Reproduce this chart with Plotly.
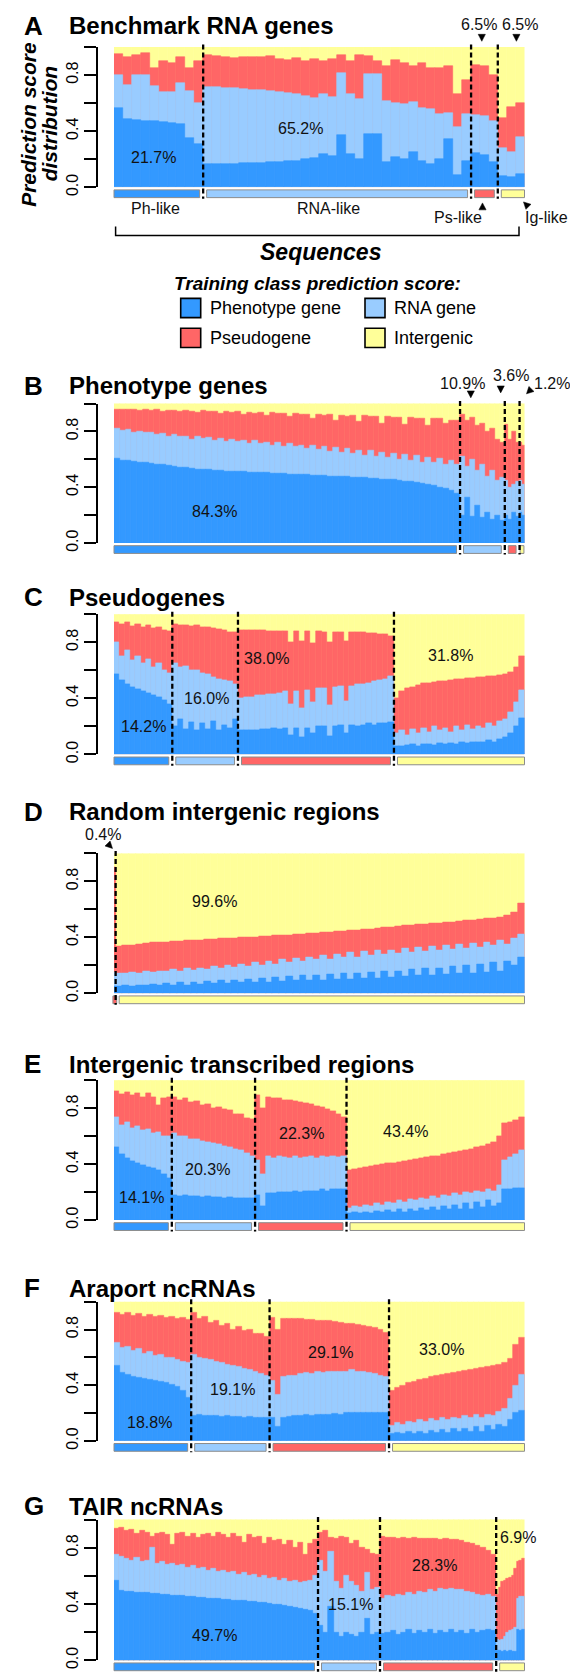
import math
import plotly.graph_objects as go

W, H = 570, 1679
COL = {"Phenotype gene": "#3399FF", "RNA gene": "#99CCFF",
       "Pseudogene": "#FF6666", "Intergenic": "#FFFF99"}
FONT = "Liberation Sans, Arial, Helvetica, sans-serif"

# ------------------------------------------------------------------ data
# Stacked tops (cumulative: phenotype, +RNA, +pseudogene); intergenic fills to 1.
# Each panel: one sub-list per predicted-class segment (Ph-like, RNA-like, Ps-like, Ig-like).
A_classes = ["Phenotype gene", "RNA gene", "Pseudogene", "Intergenic"]
A_pct = [21.7, 65.2, 6.5, 6.5]
A_ph_top = [[0.567, 0.485, 0.48, 0.475, 0.47, 0.465, 0.458, 0.45, 0.35, 0.31],
            [0.165, 0.165, 0.165, 0.168, 0.17, 0.172, 0.175, 0.178, 0.18, 0.185, 0.19, 0.2, 0.21, 0.236, 0.22,
             0.37, 0.236, 0.2, 0.383, 0.378, 0.177, 0.213, 0.2, 0.248, 0.19, 0.165, 0.2, 0.347, 0.09, 0.19],
            [0.243, 0.23, 0.177],
            [0.078, 0.071, 0.095]]
A_rna_top = [[0.797, 0.726, 0.80, 0.80, 0.72, 0.68, 0.68, 0.745, 0.685, 0.60],
             [0.716, 0.716, 0.71, 0.705, 0.70, 0.695, 0.69, 0.685, 0.68, 0.674, 0.667, 0.65, 0.638, 0.662, 0.645,
              0.816, 0.662, 0.626, 0.804, 0.804, 0.615, 0.603, 0.591, 0.61, 0.567, 0.556, 0.52, 0.532, 0.43, 0.52],
             [0.513, 0.508, 0.473],
             [0.277, 0.253, 0.355]]
A_ps_top = [[0.953, 0.929, 0.946, 0.957, 0.851, 0.903, 0.887, 0.927, 0.851, 0.898],
            [0.946, 0.934, 0.93, 0.922, 0.93, 0.928, 0.93, 0.934, 0.915, 0.91, 0.922, 0.903, 0.915, 0.898, 0.915,
             0.946, 0.898, 0.946, 0.934, 0.903, 0.863, 0.91, 0.887, 0.863, 0.887, 0.851, 0.851, 0.863, 0.662, 0.768],
            [0.875, 0.868, 0.797],
            [0.496, 0.574, 0.603]]

B_classes = ["Phenotype gene", "RNA gene", "Pseudogene", "Intergenic"]
B_pct = [84.3, 10.9, 3.6, 1.2]
B_ph_top = [[0.605, 0.595, 0.59, 0.585, 0.58, 0.577, 0.572, 0.565, 0.56, 0.555,
             0.548, 0.543, 0.538, 0.534, 0.53, 0.527, 0.524, 0.521, 0.518, 0.516,
             0.514, 0.512, 0.51, 0.508, 0.506, 0.504, 0.502, 0.5, 0.498, 0.496,
             0.494, 0.492, 0.49, 0.488, 0.486, 0.484, 0.482, 0.48, 0.478, 0.476,
             0.474, 0.472, 0.47, 0.468, 0.465, 0.462, 0.458, 0.455, 0.452, 0.448,
             0.444, 0.44, 0.434, 0.428, 0.42, 0.41, 0.4, 0.39, 0.375, 0.355],
            [0.2, 0.33, 0.19, 0.27, 0.18, 0.22, 0.17, 0.2, 0.16],
            [0.2, 0.17, 0.22, 0.19],
            [0.22, 0.2]]
B_rna_top = [[0.82, 0.805, 0.815, 0.79, 0.80, 0.79, 0.795, 0.775, 0.785, 0.765,
              0.78, 0.76, 0.765, 0.745, 0.765, 0.75, 0.755, 0.735, 0.75, 0.725,
              0.745, 0.73, 0.735, 0.715, 0.735, 0.715, 0.72, 0.70, 0.72, 0.695,
              0.715, 0.69, 0.70, 0.675, 0.70, 0.67, 0.69, 0.655, 0.685, 0.65,
              0.675, 0.64, 0.665, 0.63, 0.66, 0.62, 0.65, 0.61, 0.645, 0.60,
              0.635, 0.59, 0.63, 0.58, 0.615, 0.575, 0.605, 0.565, 0.59, 0.565],
             [0.62, 0.55, 0.6, 0.52, 0.56, 0.48, 0.52, 0.45, 0.47],
             [0.45, 0.4, 0.42, 0.44],
             [0.45, 0.42]]
B_ps_top = [[0.96, 0.955, 0.96, 0.955, 0.948, 0.958, 0.95, 0.955, 0.943, 0.953,
             0.95, 0.94, 0.948, 0.945, 0.935, 0.948, 0.94, 0.943, 0.93, 0.943,
             0.935, 0.94, 0.92, 0.938, 0.93, 0.933, 0.915, 0.933, 0.925, 0.928,
             0.905, 0.928, 0.92, 0.923, 0.895, 0.922, 0.915, 0.918, 0.88, 0.917,
             0.91, 0.912, 0.87, 0.912, 0.905, 0.907, 0.86, 0.906, 0.9, 0.902,
             0.85, 0.9, 0.895, 0.896, 0.84, 0.895, 0.89, 0.86, 0.875, 0.88],
            [0.92, 0.88, 0.9, 0.84, 0.86, 0.8, 0.82, 0.74, 0.72],
            [0.85, 0.74, 0.8, 0.72],
            [0.72, 0.7]]

C_classes = ["Phenotype gene", "RNA gene", "Pseudogene", "Intergenic"]
C_pct = [14.2, 16.0, 38.0, 31.8]
C_ph_top = [[0.57, 0.53, 0.5, 0.48, 0.465, 0.45, 0.44, 0.425, 0.41, 0.39, 0.36],
            [0.2, 0.25, 0.18, 0.23, 0.17, 0.22, 0.18, 0.24, 0.17, 0.21, 0.19, 0.25],
            [0.17, 0.17, 0.175, 0.175, 0.18, 0.18, 0.185, 0.18, 0.185, 0.14,
             0.19, 0.12, 0.19, 0.15, 0.2, 0.2, 0.13, 0.2, 0.21, 0.15,
             0.21, 0.2, 0.21, 0.22, 0.21, 0.22, 0.22, 0.23],
            [0.06, 0.06, 0.065, 0.07, 0.06, 0.07, 0.075, 0.065, 0.08, 0.07,
             0.08, 0.075, 0.085, 0.08, 0.09, 0.085, 0.09, 0.1, 0.09, 0.11,
             0.12, 0.15, 0.2, 0.26]]
C_rna_top = [[0.80, 0.70, 0.74, 0.67, 0.70, 0.65, 0.68, 0.62, 0.65, 0.6, 0.58],
             [0.65, 0.62, 0.63, 0.6, 0.6, 0.58, 0.57, 0.55, 0.54, 0.53, 0.52, 0.5],
             [0.40, 0.41, 0.41, 0.42, 0.42, 0.43, 0.43, 0.44, 0.45, 0.36,
              0.45, 0.33, 0.46, 0.37, 0.47, 0.47, 0.35, 0.48, 0.49, 0.38,
              0.49, 0.5, 0.5, 0.51, 0.52, 0.53, 0.54, 0.56],
             [0.15, 0.17, 0.14, 0.18, 0.15, 0.19, 0.16, 0.2, 0.17, 0.19,
              0.16, 0.2, 0.17, 0.21, 0.18, 0.2, 0.19, 0.22, 0.2, 0.24,
              0.25, 0.3, 0.37, 0.46]]
C_ps_top = [[0.945, 0.93, 0.94, 0.915, 0.93, 0.905, 0.92, 0.9, 0.91, 0.885, 0.88],
            [0.93, 0.92, 0.925, 0.915, 0.92, 0.91, 0.905, 0.9, 0.89, 0.885, 0.875, 0.87],
            [0.886, 0.886, 0.885, 0.885, 0.884, 0.88, 0.882, 0.88, 0.88, 0.8,
             0.878, 0.81, 0.876, 0.79, 0.876, 0.875, 0.8, 0.874, 0.872, 0.81,
             0.87, 0.87, 0.87, 0.868, 0.865, 0.86, 0.855, 0.84],
            [0.40, 0.45, 0.47, 0.483, 0.495, 0.505, 0.51, 0.515, 0.52, 0.525,
             0.53, 0.535, 0.538, 0.542, 0.545, 0.55, 0.553, 0.556, 0.56, 0.565,
             0.57, 0.585, 0.62, 0.70]]

D_classes = ["Pseudogene", "Intergenic"]
D_pct = [0.4, 99.6]
D_ph_top = [[0.05],
            [0.05, 0.055, 0.05, 0.06, 0.055, 0.065, 0.055, 0.07, 0.06, 0.075,
             0.06, 0.08, 0.065, 0.085, 0.07, 0.09, 0.07, 0.095, 0.075, 0.1,
             0.08, 0.11, 0.08, 0.115, 0.085, 0.12, 0.09, 0.125, 0.09, 0.13,
             0.095, 0.135, 0.1, 0.14, 0.1, 0.145, 0.105, 0.15, 0.11, 0.155,
             0.115, 0.16, 0.12, 0.17, 0.125, 0.175, 0.13, 0.18, 0.135, 0.19,
             0.14, 0.2, 0.145, 0.21, 0.15, 0.22, 0.16, 0.23, 0.2, 0.26]]
D_rna_top = [[0.15],
             [0.145, 0.14, 0.15, 0.145, 0.155, 0.15, 0.16, 0.155, 0.17, 0.16,
              0.175, 0.165, 0.18, 0.17, 0.19, 0.18, 0.2, 0.185, 0.21, 0.195,
              0.22, 0.2, 0.23, 0.21, 0.24, 0.22, 0.25, 0.23, 0.26, 0.24,
              0.27, 0.245, 0.28, 0.255, 0.29, 0.26, 0.3, 0.27, 0.305, 0.28,
              0.31, 0.285, 0.32, 0.29, 0.33, 0.3, 0.335, 0.31, 0.34, 0.315,
              0.35, 0.32, 0.355, 0.33, 0.365, 0.34, 0.375, 0.35, 0.39, 0.42]]
D_ps_top = [[0.9],
            [0.334, 0.34, 0.346, 0.352, 0.358, 0.361, 0.364, 0.367, 0.37, 0.373,
             0.376, 0.378, 0.381, 0.384, 0.387, 0.39, 0.393, 0.395, 0.398, 0.4,
             0.402, 0.405, 0.408, 0.411, 0.414, 0.417, 0.42, 0.424, 0.427, 0.43,
             0.433, 0.437, 0.44, 0.444, 0.448, 0.452, 0.456, 0.46, 0.464, 0.468,
             0.473, 0.477, 0.482, 0.486, 0.49, 0.494, 0.498, 0.502, 0.506, 0.51,
             0.514, 0.518, 0.522, 0.527, 0.532, 0.537, 0.545, 0.556, 0.575, 0.64]]

E_classes = ["Phenotype gene", "RNA gene", "Pseudogene", "Intergenic"]
E_pct = [14.1, 20.3, 22.3, 43.4]
E_ph_top = [[0.52, 0.47, 0.44, 0.42, 0.405, 0.39, 0.38, 0.37, 0.355, 0.33, 0.3],
            [0.18, 0.17, 0.175, 0.17, 0.17, 0.165, 0.17, 0.165, 0.165, 0.16, 0.165, 0.16, 0.16, 0.16, 0.16],
            [0.18, 0.1, 0.19, 0.19, 0.2, 0.2, 0.2, 0.21, 0.2, 0.21, 0.21, 0.21, 0.22, 0.21, 0.22, 0.22, 0.22],
            [0.05, 0.055, 0.05, 0.06, 0.05, 0.065, 0.055, 0.07, 0.06, 0.075,
             0.06, 0.08, 0.065, 0.085, 0.07, 0.09, 0.07, 0.1, 0.075, 0.11,
             0.08, 0.12, 0.08, 0.13, 0.09, 0.14, 0.1, 0.12, 0.22, 0.22, 0.23, 0.23]]
E_rna_top = [[0.735, 0.68, 0.70, 0.66, 0.67, 0.64, 0.65, 0.62, 0.63, 0.6, 0.6],
             [0.62, 0.6, 0.6, 0.58, 0.58, 0.565, 0.56, 0.55, 0.54, 0.53, 0.52, 0.51, 0.5, 0.48, 0.46],
             [0.43, 0.33, 0.46, 0.44, 0.46, 0.45, 0.44, 0.46, 0.44, 0.45, 0.46, 0.44, 0.46, 0.45, 0.46, 0.45, 0.46],
             [0.083, 0.1, 0.09, 0.11, 0.1, 0.12, 0.11, 0.13, 0.12, 0.14,
              0.13, 0.15, 0.14, 0.16, 0.15, 0.17, 0.16, 0.18, 0.17, 0.19,
              0.18, 0.2, 0.19, 0.21, 0.2, 0.22, 0.21, 0.25, 0.43, 0.45, 0.47, 0.5]]
E_ps_top = [[0.924, 0.9, 0.915, 0.89, 0.91, 0.88, 0.905, 0.875, 0.82, 0.87, 0.877],
            [0.88, 0.86, 0.87, 0.84, 0.85, 0.82, 0.83, 0.8, 0.81, 0.79, 0.785, 0.76, 0.755, 0.73, 0.72],
            [0.89, 0.8, 0.88, 0.87, 0.87, 0.86, 0.855, 0.85, 0.84, 0.835, 0.825, 0.815, 0.805, 0.79, 0.78, 0.76, 0.735],
            [0.355, 0.365, 0.372, 0.378, 0.385, 0.392, 0.398, 0.404, 0.41, 0.416,
             0.422, 0.428, 0.434, 0.44, 0.447, 0.454, 0.46, 0.468, 0.476, 0.484,
             0.492, 0.5, 0.508, 0.518, 0.528, 0.54, 0.555, 0.6, 0.69, 0.7, 0.715, 0.735]]

F_classes = ["Phenotype gene", "RNA gene", "Pseudogene", "Intergenic"]
F_pct = [18.8, 19.1, 29.1, 33.0]
F_ph_top = [[0.538, 0.49, 0.475, 0.465, 0.455, 0.447, 0.44, 0.432, 0.425, 0.415, 0.405, 0.39, 0.36, 0.31],
            [0.18, 0.185, 0.18, 0.18, 0.18, 0.175, 0.18, 0.175, 0.175, 0.17, 0.175, 0.17, 0.17, 0.17],
            [0.17, 0.1, 0.17, 0.175, 0.18, 0.18, 0.185, 0.18, 0.19, 0.19, 0.19,
             0.195, 0.19, 0.2, 0.2, 0.2, 0.2, 0.205, 0.2, 0.205, 0.2],
            [0.05, 0.06, 0.05, 0.065, 0.055, 0.07, 0.055, 0.075, 0.06, 0.08,
             0.06, 0.085, 0.065, 0.09, 0.07, 0.1, 0.07, 0.11, 0.08, 0.12, 0.1, 0.15, 0.2, 0.22]]
F_rna_top = [[0.705, 0.67, 0.68, 0.65, 0.66, 0.63, 0.64, 0.61, 0.62, 0.6, 0.6, 0.58, 0.57, 0.56],
             [0.62, 0.6, 0.59, 0.58, 0.57, 0.56, 0.55, 0.54, 0.53, 0.52, 0.51, 0.5, 0.48, 0.47],
             [0.43, 0.33, 0.46, 0.47, 0.47, 0.48, 0.49, 0.48, 0.5, 0.49, 0.5,
              0.5, 0.5, 0.5, 0.51, 0.5, 0.5, 0.49, 0.48, 0.47, 0.46],
             [0.11, 0.13, 0.12, 0.14, 0.13, 0.15, 0.14, 0.16, 0.145, 0.165,
              0.15, 0.17, 0.16, 0.18, 0.165, 0.185, 0.17, 0.19, 0.18, 0.21, 0.23, 0.3, 0.4, 0.478]]
F_ps_top = [[0.924, 0.91, 0.92, 0.9, 0.915, 0.895, 0.91, 0.89, 0.9, 0.885, 0.895, 0.88, 0.885, 0.87],
            [0.92, 0.88, 0.89, 0.85, 0.86, 0.83, 0.84, 0.8, 0.82, 0.79, 0.8, 0.77, 0.77, 0.75],
            [0.885, 0.8, 0.88, 0.88, 0.875, 0.875, 0.87, 0.87, 0.865, 0.86, 0.86,
             0.855, 0.85, 0.845, 0.84, 0.835, 0.825, 0.82, 0.81, 0.8, 0.78],
            [0.36, 0.38, 0.4, 0.415, 0.428, 0.44, 0.45, 0.458, 0.466, 0.474,
             0.482, 0.49, 0.497, 0.504, 0.511, 0.518, 0.525, 0.532, 0.54, 0.548, 0.56, 0.59, 0.69, 0.74]]

G_classes = ["Phenotype gene", "RNA gene", "Pseudogene", "Intergenic"]
G_pct = [49.7, 15.1, 28.3, 6.9]
G_ph_top = [[0.57, 0.495, 0.49, 0.487, 0.484, 0.481, 0.478, 0.475, 0.472, 0.469,
             0.466, 0.463, 0.46, 0.457, 0.454, 0.451, 0.448, 0.445, 0.442, 0.439,
             0.436, 0.433, 0.43, 0.427, 0.424, 0.421, 0.418, 0.415, 0.411, 0.407,
             0.403, 0.399, 0.394, 0.389, 0.384, 0.378, 0.371, 0.363, 0.353, 0.335],
            [0.25, 0.2, 0.38, 0.2, 0.17, 0.2, 0.18, 0.17, 0.2, 0.3, 0.18, 0.2],
            [0.19, 0.2, 0.21, 0.18, 0.2, 0.22, 0.19, 0.21, 0.2, 0.22, 0.19,
             0.21, 0.2, 0.22, 0.2, 0.21, 0.19, 0.22, 0.2, 0.21, 0.22, 0.21],
            [0.07, 0.07, 0.065, 0.07, 0.06, 0.07, 0.06, 0.065, 0.22, 0.21, 0.22]]
G_rna_top = [[0.75, 0.74, 0.72, 0.71, 0.73, 0.70, 0.71, 0.80, 0.69, 0.70,
              0.68, 0.69, 0.67, 0.68, 0.66, 0.67, 0.65, 0.66, 0.64, 0.65,
              0.63, 0.64, 0.62, 0.63, 0.61, 0.62, 0.6, 0.61, 0.59, 0.6,
              0.58, 0.59, 0.57, 0.58, 0.56, 0.57, 0.55, 0.56, 0.57, 0.6],
             [0.71, 0.63, 0.77, 0.56, 0.51, 0.6, 0.56, 0.53, 0.49, 0.62, 0.5, 0.52],
             [0.44, 0.46, 0.45, 0.47, 0.46, 0.48, 0.47, 0.49, 0.48, 0.5, 0.49,
              0.51, 0.5, 0.51, 0.5, 0.5, 0.49, 0.48, 0.47, 0.46, 0.47, 0.45],
             [0.15, 0.14, 0.15, 0.17, 0.2, 0.21, 0.22, 0.23, 0.44, 0.45, 0.45]]
G_ps_top = [[0.934, 0.94, 0.92, 0.93, 0.9, 0.92, 0.91, 0.88, 0.9, 0.91,
             0.89, 0.82, 0.9, 0.91, 0.88, 0.9, 0.87, 0.89, 0.9, 0.88,
             0.91, 0.89, 0.87, 0.9, 0.88, 0.84, 0.89, 0.87, 0.88, 0.83,
             0.87, 0.85, 0.86, 0.82, 0.85, 0.8, 0.84, 0.75, 0.83, 0.86],
            [0.91, 0.92, 0.87, 0.864, 0.88, 0.87, 0.83, 0.85, 0.8, 0.79, 0.76, 0.75],
            [0.876, 0.87, 0.875, 0.868, 0.872, 0.865, 0.87, 0.866, 0.868, 0.862, 0.866,
             0.86, 0.862, 0.855, 0.858, 0.85, 0.84, 0.83, 0.815, 0.8, 0.78, 0.75],
            [0.465, 0.52, 0.56, 0.57, 0.58, 0.59, 0.6, 0.65, 0.7, 0.71, 0.72]]

y_tick_vals = [0.0, 0.2, 0.4, 0.6, 0.8, 1.0]
y_tick_text = ["0.0", "", "0.4", "", "0.8", ""]
legend_title = "Training class prediction score:"
class_like = ["Ph-like", "RNA-like", "Ps-like", "Ig-like"]

# ------------------------------------------------------------------ layout helpers (pixels)
X0, X1 = 114.0, 524.5
AXIS_X = 97.0
GAP = 3.5


def px(x):
    return x / W


def py(y):
    return 1 - y / H


panels = [
    dict(letter="A", title="Benchmark RNA genes", classes=A_classes, pct=A_pct,
         ph=A_ph_top, rna=A_rna_top, ps=A_ps_top, top=47.3, bottom=188.3, ty=26,
         lab=[(153.8, 158.3), (300.2, 129.3), (478.8, 25), (519.7, 25)],
         tri=[(481.8, 41.5, "down"), (516.4, 41.5, "down"), (482.5, 204, "up"), (523.5, 203, "upleft")]),
    dict(letter="B", title="Phenotype genes", classes=B_classes, pct=B_pct,
         ph=B_ph_top, rna=B_rna_top, ps=B_ps_top, top=405.7, bottom=546, ty=388,
         lab=[(214.4, 514), (462, 386), (511, 377.3), (552, 386)],
         tri=[(470.8, 400, "down"), (500.7, 395, "down"), (526.5, 396, "downleft")]),
    dict(letter="C", title="Pseudogenes", classes=C_classes, pct=C_pct,
         ph=C_ph_top, rna=C_rna_top, ps=C_ps_top, top=617.5, bottom=758.5, ty=600.5,
         lab=[(143.6, 730), (206.8, 702.3), (266, 661.7), (450.7, 659)], tri=[]),
    dict(letter="D", title="Random intergenic regions", classes=D_classes, pct=D_pct,
         ph=D_ph_top, rna=D_rna_top, ps=D_ps_top, top=858, bottom=998.7, ty=816.3,
         lab=[(102.6, 838.5), (214.4, 906.7)], tri=[(112.5, 853, "downright")]),
    dict(letter="E", title="Intergenic transcribed regions", classes=E_classes, pct=E_pct,
         ph=E_ph_top, rna=E_rna_top, ps=E_ps_top, top=1086, bottom=1226.7, ty=1070,
         lab=[(141.6, 1204.3), (207.7, 1176), (301.6, 1140), (405, 1137.7)], tri=[]),
    dict(letter="F", title="Araport ncRNAs", classes=F_classes, pct=F_pct,
         ph=F_ph_top, rna=F_rna_top, ps=F_ps_top, top=1308.7, bottom=1448.7, ty=1295,
         lab=[(149.3, 1430), (232.8, 1396.7), (330.5, 1360), (441, 1356.7)], tri=[]),
    dict(letter="G", title="TAIR ncRNAs", classes=G_classes, pct=G_pct,
         ph=G_ph_top, rna=G_rna_top, ps=G_ps_top, top=1527.8, bottom=1669.3, ty=1514.5,
         lab=[(214.4, 1644), (350.7, 1613.3), (434.9, 1574.3), (518.2, 1546)], tri=[]),
]

fig = go.Figure()
shapes, annotations = [], []
layout = {}


def tri_path(tx, ty, d, L=7.0, hw=3.6):
    dirs = {"down": (0, 1), "up": (0, -1), "downleft": (-1, 1), "upleft": (-1, -1), "downright": (1, 1)}
    dx, dy = dirs[d]
    n = math.hypot(dx, dy)
    dx, dy = dx / n, dy / n
    bx, by = tx - L * dx, ty - L * dy
    qx, qy = -dy, dx
    pts = [(tx, ty), (bx + hw * qx, by + hw * qy), (bx - hw * qx, by - hw * qy)]
    return "M " + " L ".join(f"{px(a):.5f},{py(b):.5f}" for a, b in pts) + " Z"


for i, p in enumerate(panels, start=1):
    sfx = "" if i == 1 else str(i)
    xa, ya = "x" + sfx, "y" + sfx
    total = sum(p["pct"])
    xs, ws, ph, rna, ps = [], [], [], [], []
    start = 0.0
    for seg_pct, s_ph, s_rna, s_ps in zip(p["pct"], p["ph"], p["rna"], p["ps"]):
        n = min(len(s_ph), len(s_rna), len(s_ps))
        w = seg_pct / n
        for k in range(n):
            xs.append(start + (k + 0.5) * w)
            ws.append(w)
            ph.append(s_ph[k]); rna.append(s_rna[k]); ps.append(s_ps[k])
        start += seg_pct
    for vals, name in [([1.0] * len(xs), "Intergenic"), (ps, "Pseudogene"),
                       (rna, "RNA gene"), (ph, "Phenotype gene")]:
        fig.add_trace(go.Bar(x=xs, y=vals, width=ws, xaxis=xa, yaxis=ya, name=name,
                             marker=dict(color=COL[name], line=dict(color=COL[name], width=0.6)),
                             showlegend=False, hoverinfo="skip"))
    layout["xaxis" + sfx] = dict(domain=[px(X0), px(X1)], range=[0, total], visible=False,
                                 anchor=ya, fixedrange=True)
    layout["yaxis" + sfx] = dict(domain=[py(p["bottom"]), py(p["top"])], range=[0, 1],
                                 anchor="free", position=px(AXIS_X), showline=True,
                                 linecolor="black", linewidth=1.8, ticks="outside", ticklen=12,
                                 tickwidth=1.8, tickcolor="black", tickvals=y_tick_vals,
                                 ticktext=y_tick_text, tickangle=-90,
                                 tickfont=dict(size=16, family=FONT, color="black"),
                                 showgrid=False, zeroline=False, fixedrange=True)
    cum = [0.0]
    for v in p["pct"]:
        cum.append(cum[-1] + v)
    to_px = lambda v: X0 + v / total * (X1 - X0)
    cb0, cb1 = p["bottom"] + 2.6, p["bottom"] + 10.4
    for k, cls in enumerate(p["classes"]):
        a, b = to_px(cum[k]), to_px(cum[k + 1])
        la = a + (GAP if k > 0 else 0)
        rb = b - (GAP if k < len(p["classes"]) - 1 else 0)
        if rb - la < 3:
            c = (a + b) / 2
            la, rb = c - 1.9, c + 1.9
        shapes.append(dict(type="rect", xref="paper", yref="paper", x0=px(la), x1=px(rb),
                           y0=py(cb1), y1=py(cb0), fillcolor=COL[cls],
                           line=dict(color="#8c8c8c", width=1), layer="above"))
    for c in cum[1:-1]:
        xx = to_px(c)
        shapes.append(dict(type="line", xref="paper", yref="paper", x0=px(xx), x1=px(xx),
                           y0=py(p["top"] - 2.5), y1=py(cb1 + 1), layer="above",
                           line=dict(color="black", width=2.3, dash="5px,3px")))
    annotations.append(dict(text="<b>" + p["letter"] + "</b>", x=px(22), y=py(p["ty"]),
                            xref="paper", yref="paper", xanchor="left", yanchor="middle",
                            showarrow=False, font=dict(size=26, family=FONT, color="black")))
    annotations.append(dict(text="<b>" + p["title"] + "</b>", x=px(66.5), y=py(p["ty"]),
                            xref="paper", yref="paper", xanchor="left", yanchor="middle",
                            showarrow=False, font=dict(size=24, family=FONT, color="black")))
    for v, (lx, ly) in zip(p["pct"], p["lab"]):
        annotations.append(dict(text=f"{v:.1f}%", x=px(lx), y=py(ly), xref="paper", yref="paper",
                                xanchor="center", yanchor="middle", showarrow=False,
                                font=dict(size=16, family=FONT, color="#111111")))
    for tx, ty, d in p["tri"]:
        shapes.append(dict(type="path", xref="paper", yref="paper", path=tri_path(tx, ty, d),
                           fillcolor="black", line=dict(color="black", width=0.5), layer="above"))

# panel A extras: category names, bracket, axis titles
for name, (lx, ly) in zip(class_like, [(155, 210), (328.5, 210), (458, 219), (546.5, 219)]):
    annotations.append(dict(text=name, x=px(lx), y=py(ly), xref="paper", yref="paper",
                            xanchor="center", yanchor="middle", showarrow=False,
                            font=dict(size=16, family=FONT, color="#111111")))
shapes.append(dict(type="path", xref="paper", yref="paper",
                   path=f"M {px(115.6)},{py(227.7)} L {px(115.6)},{py(236.7)} L {px(519)},{py(236.7)} L {px(519)},{py(227.7)}",
                   line=dict(color="black", width=1.5)))
annotations.append(dict(text="<b><i>Sequences</i></b>", x=px(320), y=py(253), xref="paper", yref="paper",
                        xanchor="center", yanchor="middle", showarrow=False,
                        font=dict(size=23, family=FONT, color="black")))
for txt, xx in [("Prediction score", 28.5), ("distribution", 49)]:
    annotations.append(dict(text="<b><i>" + txt + "</i></b>", x=px(xx), y=py(125), xref="paper",
                            yref="paper", xanchor="center", yanchor="middle", textangle=-90,
                            showarrow=False, font=dict(size=21, family=FONT, color="black")))

# legend
annotations.append(dict(text="<b><i>" + legend_title + "</i></b>", x=px(317), y=py(285), xref="paper",
                        yref="paper", xanchor="center", yanchor="middle", showarrow=False,
                        font=dict(size=19, family=FONT, color="black")))
legend_cells = [("Phenotype gene", 180.7, 300), ("RNA gene", 365, 300),
                ("Pseudogene", 180.7, 330), ("Intergenic", 365, 330)]
for cls, lx, ly in legend_cells:
    shapes.append(dict(type="rect", xref="paper", yref="paper", x0=px(lx), x1=px(lx + 20),
                       y0=py(ly + 19.3), y1=py(ly), fillcolor=COL[cls],
                       line=dict(color="black", width=1.6)))
    annotations.append(dict(text=cls, x=px(lx + 27), y=py(ly + 10), xref="paper", yref="paper",
                            xanchor="left", yanchor="middle", showarrow=False,
                            font=dict(size=18, family=FONT, color="black")))

fig.update_layout(**layout)
fig.update_layout(width=W, height=H, margin=dict(l=0, r=0, t=0, b=0),
                  paper_bgcolor="white", plot_bgcolor="white", barmode="overlay",
                  bargap=0, showlegend=False, shapes=shapes, annotations=annotations,
                  font=dict(family=FONT))
fig.write_html("out.html", config={"displayModeBar": False})
